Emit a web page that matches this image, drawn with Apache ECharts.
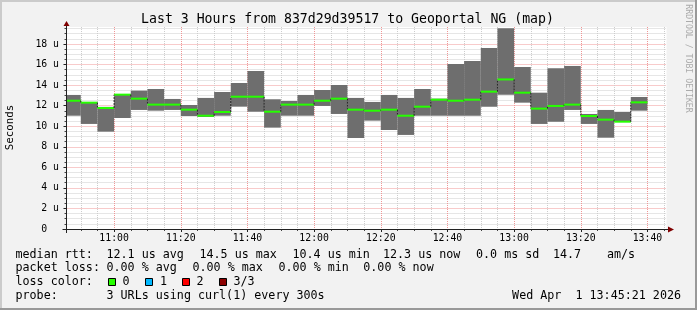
<!DOCTYPE html>
<html><head><meta charset="utf-8">
<script src="https://cdn.jsdelivr.net/npm/echarts@6/dist/echarts.min.js"></script>
<style>html,body{margin:0;padding:0;background:#f2f2f2}#c{width:697px;height:310px}</style>
</head><body><div id="c"></div>
<script>
// ---- data ----
const binStarts = ["10:45","10:50","10:55","11:00","11:05","11:10","11:15","11:20","11:25","11:30",
  "11:35","11:40","11:45","11:50","11:55","12:00","12:05","12:10","12:15","12:20",
  "12:25","12:30","12:35","12:40","12:45","12:50","12:55","13:00","13:05","13:10",
  "13:15","13:20","13:25","13:30","13:35"];
const rttMin = [11.02,10.22,9.47,10.80,11.58,11.51,11.58,10.99,10.90,11.02,
  11.90,11.41,9.86,11.02,11.02,11.97,11.19,8.85,10.54,9.63,
  9.15,11.02,11.02,11.02,11.02,11.90,13.07,12.29,10.22,10.44,
  11.58,10.22,8.88,10.41,11.51];
const rttMedian = [12.48,12.29,11.77,13.07,12.68,12.10,12.10,11.61,11.02,11.38,
  12.87,12.87,11.41,12.10,12.10,12.48,12.68,11.61,11.51,11.61,
  11.02,11.90,12.58,12.48,12.58,13.36,14.55,13.26,11.71,11.97,
  12.10,10.99,10.64,10.44,12.32];
const rttMax = [13.04,12.36,11.88,13.13,13.46,13.62,12.65,12.06,12.75,13.33,
  14.20,15.37,12.62,12.45,13.04,13.52,14.01,12.75,12.36,13.04,
  12.75,13.62,12.68,16.05,16.35,17.61,19.53,15.76,13.26,15.63,
  15.86,11.19,11.58,11.38,12.84];
const binMinutes = 5;
const viewStart = "10:45:43";
const viewEnd = "13:45:43";
const yMax = 19.65;
const timeLabels = ["11:00","11:20","11:40","12:00","12:20","12:40","13:00","13:20","13:40"];
const yLabels = [0,2,4,6,8,10,12,14,16,18];

const titleText = "Last 3 Hours from 837d29d39517 to Geoportal NG (map)";
const legendRows = [
  [["median rtt:",16],["12.1 us avg",107],["14.5 us max",200],["10.4 us min",293],["12.3 us now",383.5],["0.0 ms sd",476.5],["14.7",553.5],["am/s",607.5]],
  [["packet loss:",16],["0.00 % avg",107],["0.00 % max",193],["0.00 % min",279],["0.00 % now",363.8]],
  [["loss color:",16],["0",123],["1",160.5],["2",197],["3/3",234]],
  [["probe:",16],["3 URLs using curl(1) every 300s",107]]
];
const lossColors = [["#26ff00",108.5],["#00b8ff",145.5],["#ff0000",182.5],["#8b0000",219.5]];
const dateText = "Wed Apr  1 13:45:21 2026";

// ---- helpers ----
const toMin = s => { const p = s.split(':').map(Number); return p[0]*60 + p[1] + (p[2]||0)/60; };
const fmtT = v => { const h = Math.floor(v/60), m = Math.round(v - h*60); return String(h).padStart(2,'0') + ':' + String(m).padStart(2,'0'); };
const xMin = toMin(viewStart), xMax = toMin(viewEnd);
const majorX = timeLabels.map(toMin);
const minorX = [];
for (let t = Math.ceil(xMin/binMinutes)*binMinutes; t <= xMax; t += binMinutes) if (majorX.indexOf(t) < 0) minorX.push(t);
const minorY = [];
for (let v = 0.5; v < yMax; v += 0.5) if (yLabels.indexOf(v) < 0) minorY.push(v);

const rows = binStarts.map((s,i) => [toMin(s), toMin(s)+binMinutes, rttMin[i], rttMedian[i], rttMax[i], i>0 ? rttMedian[i-1] : rttMedian[i]]);

const MONO = '"DejaVu Sans Mono", monospace';
const G = {left:66.5, top:27, width:600, height:202};

const graphics = [
  {type:'rect', shape:{x:0,y:0,width:697,height:2}, style:{fill:'#cbcbcb'}, z:100},
  {type:'rect', shape:{x:0,y:0,width:2,height:310}, style:{fill:'#cbcbcb'}, z:100},
  {type:'rect', shape:{x:0,y:308,width:697,height:2}, style:{fill:'#999999'}, z:100},
  {type:'rect', shape:{x:695,y:0,width:2,height:310}, style:{fill:'#999999'}, z:100},
  {type:'text', x:347.5, y:19.3, style:{text:titleText, font:'13.2px '+MONO, fill:'#000', align:'center', verticalAlign:'middle', textAlign:'center', textVerticalAlign:'middle'}},
  {type:'text', x:10.5, y:127.5, rotation:Math.PI/2, style:{text:'Seconds', font:'10.8px '+MONO, fill:'#000', align:'center', verticalAlign:'middle', textAlign:'center', textVerticalAlign:'middle'}},
  {type:'text', x:688.5, y:58.5, rotation:-Math.PI/2, style:{text:'RRDTOOL / TOBI OETIKER', font:'8.2px '+MONO, fill:'#ababab', align:'center', verticalAlign:'middle', textAlign:'center', textVerticalAlign:'middle'}},
  // axis extensions and arrows
  {type:'line', shape:{x1:62.5, y1:G.top+G.height+0.5, x2:669, y2:G.top+G.height+0.5}, style:{stroke:'#222', lineWidth:1}, z:50},
  {type:'line', shape:{x1:G.left, y1:233, x2:G.left, y2:25}, style:{stroke:'#222', lineWidth:1}, z:50},
  {type:'polygon', shape:{points:[[63.5,26],[69.5,26],[66.5,21]]}, style:{fill:'#7f0000'}, z:51},
  {type:'polygon', shape:{points:[[668,226.5],[668,232.5],[674,229.5]]}, style:{fill:'#7f0000'}, z:51},
  {type:'text', x:681, y:296, style:{text:dateText, font:'11.7px '+MONO, fill:'#000', align:'right', verticalAlign:'middle', textAlign:'right', textVerticalAlign:'middle'}}
];
const rowY = [254.7, 268.2, 282.1, 296];
legendRows.forEach((r,ri) => r.forEach(([t,x]) => graphics.push({type:'text', x:x-0.5, y:rowY[ri], style:{text:t, font:'11.7px '+MONO, fill:'#000', align:'left', verticalAlign:'middle', textAlign:'left', textVerticalAlign:'middle'}})));
lossColors.forEach(([c,x]) => graphics.push({type:'rect', shape:{x:x, y:278.5, width:7, height:7}, style:{fill:c, stroke:'#000', lineWidth:1}}));

const chart = echarts.init(document.getElementById('c'), null, {renderer:'canvas'});
const minorLine = {show:true, lineStyle:{color:'#cdcdcd', width:1, type:[1,1]}};
const majorLine = {show:true, lineStyle:{color:'#f09696', width:1, type:[1,1]}};
chart.setOption({
  backgroundColor:'#f2f2f2',
  animation:false,
  grid:{left:G.left, top:G.top, width:G.width, height:G.height, show:true, backgroundColor:'#ffffff', borderWidth:0},
  xAxis:[
    {type:'value', min:xMin, max:xMax, position:'bottom', axisLine:{show:false},
     axisTick:{show:true, customValues:minorX, length:2, lineStyle:{color:'#444'}}, axisLabel:{show:false}, splitLine:minorLine},
    {type:'value', min:xMin, max:xMax, position:'bottom', axisLine:{show:true, lineStyle:{color:'#222'}},
     axisTick:{show:true, customValues:majorX, length:3, lineStyle:{color:'#222'}},
     axisLabel:{customValues:majorX, formatter:fmtT, fontFamily:MONO, fontSize:9.8, color:'#000', margin:4},
     splitLine:majorLine}
  ],
  yAxis:[
    {type:'value', min:0, max:yMax, position:'left', axisLine:{show:false},
     axisTick:{show:true, customValues:minorY, length:2, lineStyle:{color:'#444'}}, axisLabel:{show:false}, splitLine:minorLine},
    {type:'value', min:0, max:yMax, position:'left', axisLine:{show:true, lineStyle:{color:'#222'}},
     axisTick:{show:true, customValues:yLabels, length:3, lineStyle:{color:'#222'}},
     axisLabel:{customValues:yLabels, formatter:v => v === 0 ? '0  ' : v + ' u', fontFamily:MONO, fontSize:9.8, color:'#000', margin:7.5},
     splitLine:majorLine}
  ],
  series:[
    {type:'custom', name:'smoke', xAxisIndex:1, yAxisIndex:1, data:rows, encode:{x:[0,1], y:[2,4]}, z:2,
     renderItem:(params, api) => {
       const cs = params.coordSys;
       const p0 = api.coord([api.value(0), api.value(4)]);
       const p1 = api.coord([api.value(1), api.value(2)]);
       const r = echarts.graphic.clipRectByRect({x:p0[0], y:p0[1], width:p1[0]-p0[0], height:p1[1]-p0[1]}, {x:cs.x, y:cs.y, width:cs.width, height:cs.height});
       return r ? {type:'rect', shape:r, style:{fill:'#6e6e6e'}} : null;
     }},
    {type:'custom', name:'median', xAxisIndex:1, yAxisIndex:1, data:rows, encode:{x:[0,1], y:[3,5]}, z:3,
     renderItem:(params, api) => {
       const xs = Math.max(api.value(0), xMin);
       const a = api.coord([xs, api.value(3)]);
       const b = api.coord([api.value(1), api.value(3)]);
       const ch = [];
       if (params.dataIndex > 0) {
         const c = api.coord([api.value(0), api.value(5)]);
         ch.push({type:'line', shape:{x1:a[0], y1:c[1], x2:a[0], y2:a[1]}, style:{stroke:'#222', lineWidth:1, lineDash:[2,1]}});
       }
       ch.push({type:'line', shape:{x1:a[0], y1:a[1], x2:b[0], y2:b[1]}, style:{stroke:'#26ff00', lineWidth:2}});
       return {type:'group', children:ch};
     }}
  ],
  graphic:graphics
});
</script></body></html>
